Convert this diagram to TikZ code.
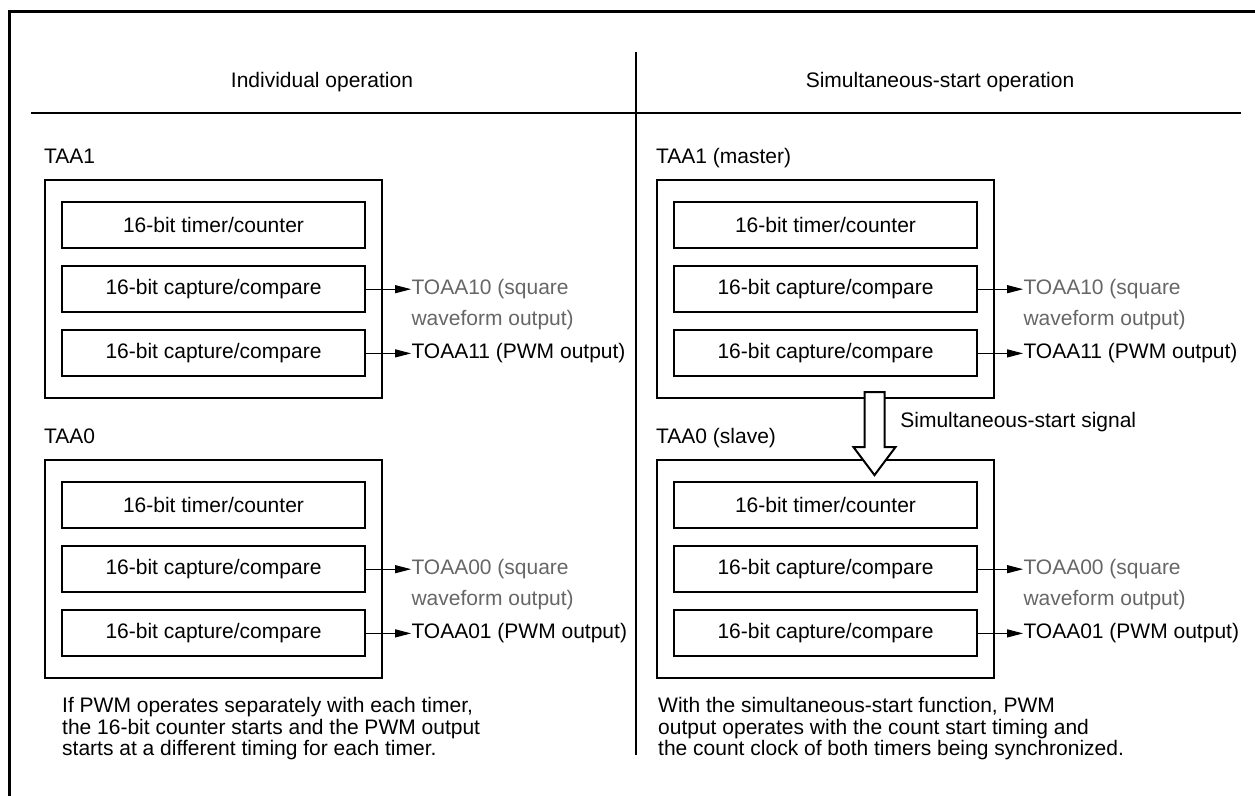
\documentclass[tikz,border=0pt]{standalone}
\usepackage{fontspec}
\setmainfont{Liberation Sans}
\usetikzlibrary{arrows.meta, positioning, fit}

\begin{document}
\begin{tikzpicture}[
  x=0.5pt, y=-0.5pt,
  every node/.style={font=\fontsize{10.5pt}{11pt}\selectfont},
  unit/.style={rectangle, draw, line width=1.1pt, minimum width=151.5pt,
               minimum height=23pt, inner sep=0pt},
  grp/.style={rectangle, draw, line width=1.1pt, inner xsep=8pt, inner ysep=10.25pt},
  lbl/.style={inner sep=0pt},
  outp/.style={inner sep=0pt, anchor=west},
  outg/.style={outp, text=black!60},
  note/.style={inner sep=0pt, align=left,
               font=\fontsize{10.5pt}{10.8pt}\selectfont},
  arr/.style={-{Triangle[length=8pt, width=4pt]}, line width=0.5pt},
  hollow/.style={draw, fill=white, line width=1pt, line join=miter}
]
  \useasboundingbox (0,0) rectangle (1255,796);

  % Frame and column rules
  \draw[line width=1.5pt] (9,796) -- (9,12) -- (1255,12);
  \draw[line width=1.25pt] (31,113) -- (1241,113);
  \draw[line width=1pt] (636,52) -- (636,755);

  \node (indhead) at (322,82) {Individual operation};
  \node (simhead) at (940,82) {Simultaneous-start operation};

  % Individual operation: TAA1
  \node[unit] (ind1cnt) at (213.5,225) {16-bit timer/counter};
  \node[unit, below=8pt of ind1cnt] (ind1cmp0) {16-bit capture/compare};
  \node[unit, below=8pt of ind1cmp0] (ind1cmp1) {16-bit capture/compare};
  \node[grp, fit=(ind1cnt) (ind1cmp0) (ind1cmp1)] (ind1) {};
  \node[lbl, above=8pt of ind1.north west, anchor=base west] (ind1name) {TAA1};
  \node[outg, right=22.5pt of ind1cmp0] (ind1out0) {TOAA10 (square};
  \node[outg, below=15.5pt of ind1out0.base west, anchor=base west] (ind1wave) {waveform output)};
  \node[outp, right=22.5pt of ind1cmp1] (ind1out1) {TOAA11 (PWM output)};
  \draw[arr] (ind1cmp0.east) -- (ind1cmp0.east -| ind1out0.west);
  \draw[arr] (ind1cmp1.east) -- (ind1cmp1.east -| ind1out1.west);

  % Individual operation: TAA0
  \node[unit] (ind0cnt) at (213.5,505) {16-bit timer/counter};
  \node[unit, below=8pt of ind0cnt] (ind0cmp0) {16-bit capture/compare};
  \node[unit, below=8pt of ind0cmp0] (ind0cmp1) {16-bit capture/compare};
  \node[grp, fit=(ind0cnt) (ind0cmp0) (ind0cmp1)] (ind0) {};
  \node[lbl, above=8pt of ind0.north west, anchor=base west] (ind0name) {TAA0};
  \node[outg, right=22.5pt of ind0cmp0] (ind0out0) {TOAA00 (square};
  \node[outg, below=15.5pt of ind0out0.base west, anchor=base west] (ind0wave) {waveform output)};
  \node[outp, right=22.5pt of ind0cmp1] (ind0out1) {TOAA01 (PWM output)};
  \draw[arr] (ind0cmp0.east) -- (ind0cmp0.east -| ind0out0.west);
  \draw[arr] (ind0cmp1.east) -- (ind0cmp1.east -| ind0out1.west);

  \node[note, below right=9pt and 9pt of ind0.south west] (indnote)
    {If PWM operates separately with each timer,\\
     the 16-bit counter starts and the PWM output\\
     starts at a different timing for each timer.};

  % Simultaneous-start operation: TAA1 (master)
  \node[unit] (sim1cnt) at (825.5,225) {16-bit timer/counter};
  \node[unit, below=8pt of sim1cnt] (sim1cmp0) {16-bit capture/compare};
  \node[unit, below=8pt of sim1cmp0] (sim1cmp1) {16-bit capture/compare};
  \node[grp, fit=(sim1cnt) (sim1cmp0) (sim1cmp1)] (sim1) {};
  \node[lbl, above=8pt of sim1.north west, anchor=base west] (sim1name) {TAA1 (master)};
  \node[outg, right=22.5pt of sim1cmp0] (sim1out0) {TOAA10 (square};
  \node[outg, below=15.5pt of sim1out0.base west, anchor=base west] (sim1wave) {waveform output)};
  \node[outp, right=22.5pt of sim1cmp1] (sim1out1) {TOAA11 (PWM output)};
  \draw[arr] (sim1cmp0.east) -- (sim1cmp0.east -| sim1out0.west);
  \draw[arr] (sim1cmp1.east) -- (sim1cmp1.east -| sim1out1.west);

  % Simultaneous-start operation: TAA0 (slave)
  \node[unit] (sim0cnt) at (825.5,505) {16-bit timer/counter};
  \node[unit, below=8pt of sim0cnt] (sim0cmp0) {16-bit capture/compare};
  \node[unit, below=8pt of sim0cmp0] (sim0cmp1) {16-bit capture/compare};
  \node[grp, fit=(sim0cnt) (sim0cmp0) (sim0cmp1)] (sim0) {};
  \node[lbl, above=8pt of sim0.north west, anchor=base west] (sim0name) {TAA0 (slave)};
  \node[outg, right=22.5pt of sim0cmp0] (sim0out0) {TOAA00 (square};
  \node[outg, below=15.5pt of sim0out0.base west, anchor=base west] (sim0wave) {waveform output)};
  \node[outp, right=22.5pt of sim0cmp1] (sim0out1) {TOAA01 (PWM output)};
  \draw[arr] (sim0cmp0.east) -- (sim0cmp0.east -| sim0out0.west);
  \draw[arr] (sim0cmp1.east) -- (sim0cmp1.east -| sim0out1.west);

  \node[note, below right=9pt and 1pt of sim0.south west] (simnote)
    {With the simultaneous-start function, PWM\\
     output operates with the count start timing and\\
     the count clock of both timers being synchronized.};

  % Simultaneous-start signal
  \draw[hollow] ([xshift=19.5pt, yshift=3.5pt]sim1.south) -- ++(0,55) -- ++(-11,0)
    -- ++(21,28) -- ++(21,-28) -- ++(-11,0) -- ++(0,-55) -- cycle;
  \node[outp] (sigtext) at (900,422) {Simultaneous-start signal};
\end{tikzpicture}
\end{document}
